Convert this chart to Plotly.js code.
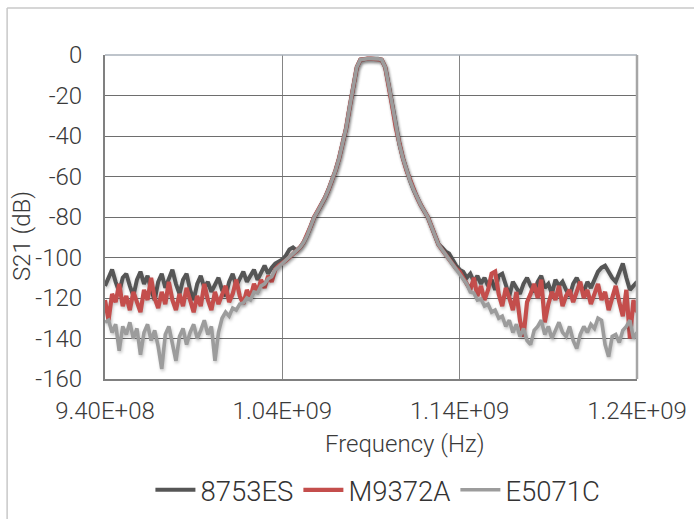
<!DOCTYPE html>
<html>
<head>
<meta charset="utf-8">
<script src="https://cdn.plot.ly/plotly-3.0.1.min.js"></script>
<style>
html,body{margin:0;padding:0;background:#fff;}
#chart{width:694px;height:519px;}
#chart .scatterlayer .trace path.js-line{filter: drop-shadow(1.5px 2.5px 1.5px rgba(0,0,0,0.22));}
</style>
</head>
<body>
<div id="chart"></div>
<script>
// Frequency grid in MHz
const freqMHz = [
 940,942,944,946,948,950,952,954,956,958,
 960,962,964,966,968,970,972,974,976,978,
 980,982,984,986,988,990,992,994,996,998,
 1000,1002,1004,1006,1008,1010,1012,1014,1016,1018,
 1020,1022,1024,1026,1028,1030,1032,1034,1036,1038,
 1040,1042,1044,1046,1048,1050,1052,1054,1056,1058,
 1060,1062,1064,1066,1068,1070,1072,1074,1076,1078,
 1080,1082,1084,1086,1088,1090,1092,1094,1096,1098,
 1100,1102,1104,1106,1108,1110,1112,1114,1116,1118,
 1120,1122,1124,1126,1128,1130,1132,1134,1136,1138,
 1140,1142,1144,1146,1148,1150,1152,1154,1156,1158,
 1160,1162,1164,1166,1168,1170,1172,1174,1176,1178,
 1180,1182,1184,1186,1188,1190,1192,1194,1196,1198,
 1200,1202,1204,1206,1208,1210,1212,1214,1216,1218,
 1220,1222,1224,1226,1228,1230,1232,1234,1236,1238,
 1240
];

// 8753ES (dB)
const s8753ES = [
 -114,-110,-106,-112,-117,-110,-108,-114,-119,-111,
 -107,-113,-109,-116,-121,-112,-108,-115,-110,-106,
 -113,-118,-111,-108,-116,-121,-113,-109,-115,-112,
 -117,-113,-110,-116,-119,-112,-108,-114,-110,-107,
 -112,-109,-106,-111,-107,-104,-108,-105,-103,-102,
 -101,-99,-96,-95,-96.5,-95,-92.5,-89,-84.5,-80,
 -77,-74,-70.5,-66.5,-62,-57,-51,-44,-36,-25.5,
 -15,-6,-2.3,-1.9,-1.8,-1.8,-1.8,-1.9,-2.3,-6,
 -15,-25.5,-36,-44,-51,-57,-62,-66.5,-70.5,-74,
 -77,-80,-84.5,-89.5,-93.5,-95,-97,-98,-101,-104,
 -106,
 -107,-110,-108,-112,-109,-113,-110,-114,-111,-116,
 -109,-108,-113,-119,-112,-115,-118,-113,-110,-114,
 -117,-112,-109,-115,-113,-118,-111,-114,-112,-116,
 -119,-113,-110,-114,-117,-112,-115,-111,-107,-105,
 -104,-107,-110,-112,-108,-103,-110,-116,-114,-112
];

// M9372A (dB)
const sM9372A = [
 -121,-131,-118,-122,-113,-124,-119,-126,-117,-122,
 -127,-116,-121,-110,-120,-125,-117,-123,-112,-121,
 -126,-118,-124,-115,-122,-127,-119,-124,-113,-121,
 -126,-117,-123,-119,-114,-122,-118,-111,-119,-123,
 -116,-120,-113,-117,-111,-115,-109,-112,-106,-104,
 -103,-101.5,-100,-98.5,-97,-95,-92.5,-89,-84.5,-80,
 -77,-74,-70.5,-66.5,-62,-57,-51,-44,-36,-25.5,
 -15,-6,-2.3,-1.9,-1.8,-1.8,-1.8,-1.9,-2.3,-6,
 -15,-25.5,-36,-44,-51,-57,-62,-66.5,-70.5,-74,
 -77,-80,-84.5,-89.5,-93.5,-96,-98.5,-101,-103.5,-105.5,
 -107,
 -110,-112,-116,-110,-119,-114,-121,-116,-108,-107,
 -118,-124,-115,-120,-126,-117,-131,-139,-122,-118,
 -113,-120,-111,-132,-123,-117,-121,-114,-124,-119,
 -116,-122,-117,-112,-120,-116,-123,-118,-113,-121,
 -117,-126,-119,-114,-122,-129,-116,-140,-121,-127
];

// E5071C (dB)
const sE5071C = [
 -132,-131,-137,-133,-146,-134,-138,-132,-140,-135,
 -148,-137,-133,-141,-136,-144,-155,-138,-134,-142,
 -151,-139,-135,-143,-137,-133,-140,-136,-131,-138,
 -134,-151,-137,-130,-127,-129,-125,-126,-123,-122.5,
 -120,-121,-117,-117.5,-114,-113,-110.5,-109.5,-106,-104.5,
 -103,-101.5,-100,-98.5,-97,-95,-92.5,-89,-84.5,-80,
 -77,-74,-70.5,-66.5,-62,-57,-51,-44,-36,-25.5,
 -15,-6,-2.3,-1.9,-1.8,-1.8,-1.8,-1.9,-2.3,-6,
 -15,-25.5,-36,-44,-51,-57,-62,-66.5,-70.5,-74,
 -77,-80,-84.5,-89.5,-93.5,-96,-98.5,-101,-103.5,-106,
 -108.5,
 -111,-113,-117,-117.5,-121,-120.5,-124,-123,-127,-126,
 -130,-129,-134,-131,-137,-133,-139,-135,-141,-143,
 -136,-134,-131,-138,-134,-140,-136,-132,-137,-139,
 -134,-141,-145,-138,-134,-137,-133,-135,-130,-131,
 -143,-149,-139,-138,-142,-136,-134,-131,-140,-137
];

const seriesNames = ['8753ES', 'M9372A', 'E5071C'];
const xTickVals = [940e6, 1040e6, 1140e6, 1240e6];
const xTickText = ['9.40E+08', '1.04E+09', '1.14E+09', '1.24E+09'];
const yTickVals = [0, -20, -40, -60, -80, -100, -120, -140, -160];
const yTickText = ['0', '-20', '-40', '-60', '-80', '-100', '-120', '-140', '-160'];

const freqHz = freqMHz.map(f => f * 1e6);
const FONT = 'Roboto, "Open Sans", sans-serif';

const traces = [
  {x: freqHz, y: s8753ES, name: seriesNames[0], type: 'scatter', mode: 'lines',
   line: {color: '#565656', width: 4}},
  {x: freqHz, y: sM9372A, name: seriesNames[1], type: 'scatter', mode: 'lines',
   line: {color: '#c44e4c', width: 4.2}},
  {x: freqHz, y: sE5071C, name: seriesNames[2], type: 'scatter', mode: 'lines',
   line: {color: '#9c9c9c', width: 3.6}}
];

const layout = {
  width: 694, height: 519,
  margin: {l: 105, r: 57, t: 55, b: 140},
  paper_bgcolor: '#ffffff', plot_bgcolor: '#ffffff',
  font: {family: FONT, color: '#3a3a3a', weight: 300},
  showlegend: true,
  legend: {orientation: 'h', x: 0.513, xanchor: 'center', yref: 'container', y: 0.056, yanchor: 'middle',
           font: {size: 27.5, color: '#333333', family: FONT, weight: 300}, itemwidth: 40,
           traceorder: 'normal', bgcolor: 'rgba(0,0,0,0)'},
  xaxis: {
    range: [940e6, 1240e6], tickmode: 'array', tickvals: xTickVals, ticktext: xTickText,
    showgrid: true, gridcolor: '#858585', gridwidth: 1.5,
    showline: true, linecolor: '#808080', linewidth: 2,
    ticks: '', zeroline: false, tickfont: {size: 24, color: '#3a3a3a', family: FONT, weight: 300},
    ticklabelstandoff: 9
  },
  yaxis: {
    range: [-160, 0], tickmode: 'array', tickvals: yTickVals, ticktext: yTickText,
    showgrid: true, gridcolor: '#6e6e6e', gridwidth: 1,
    showline: true, linecolor: '#808080', linewidth: 2,
    ticks: '', zeroline: false, tickfont: {size: 24, color: '#3a3a3a', family: FONT, weight: 300},
    ticklabelstandoff: 16
  },
  annotations: [
    {text: 'Frequency (Hz)', xref: 'paper', yref: 'paper', x: 0.563, y: -0.2, xanchor: 'center', yanchor: 'middle',
     showarrow: false, font: {size: 24, color: '#3a3a3a', family: FONT, weight: 300}},
    {text: 'S21 (dB)', xref: 'paper', yref: 'paper', x: -0.156, y: 0.441, xanchor: 'center', yanchor: 'middle',
     textangle: -90, showarrow: false, font: {size: 24, color: '#3a3a3a', family: FONT, weight: 300}}
  ],
  shapes: [
    // outer chart frame (top and left edges)
    {type: 'line', xref: 'paper', yref: 'paper', x0: -0.184, x1: 1.12, y0: 1.145, y1: 1.145,
     line: {color: '#c8c8c8', width: 1.5}},
    {type: 'line', xref: 'paper', yref: 'paper', x0: -0.184, x1: -0.184, y0: 1.145, y1: -0.45,
     line: {color: '#c8c8c8', width: 1.5}},
    // plot area top and right borders
    {type: 'line', xref: 'paper', yref: 'paper', x0: 0, x1: 1, y0: 1, y1: 1,
     line: {color: '#a8b0ba', width: 1.5}},
    {type: 'line', xref: 'paper', yref: 'paper', x0: 1, x1: 1, y0: 0, y1: 1,
     line: {color: '#a6a6a6', width: 2.5}}
  ]
};

Plotly.newPlot('chart', traces, layout, {displayModeBar: false, staticPlot: true});
</script>
</body>
</html>
